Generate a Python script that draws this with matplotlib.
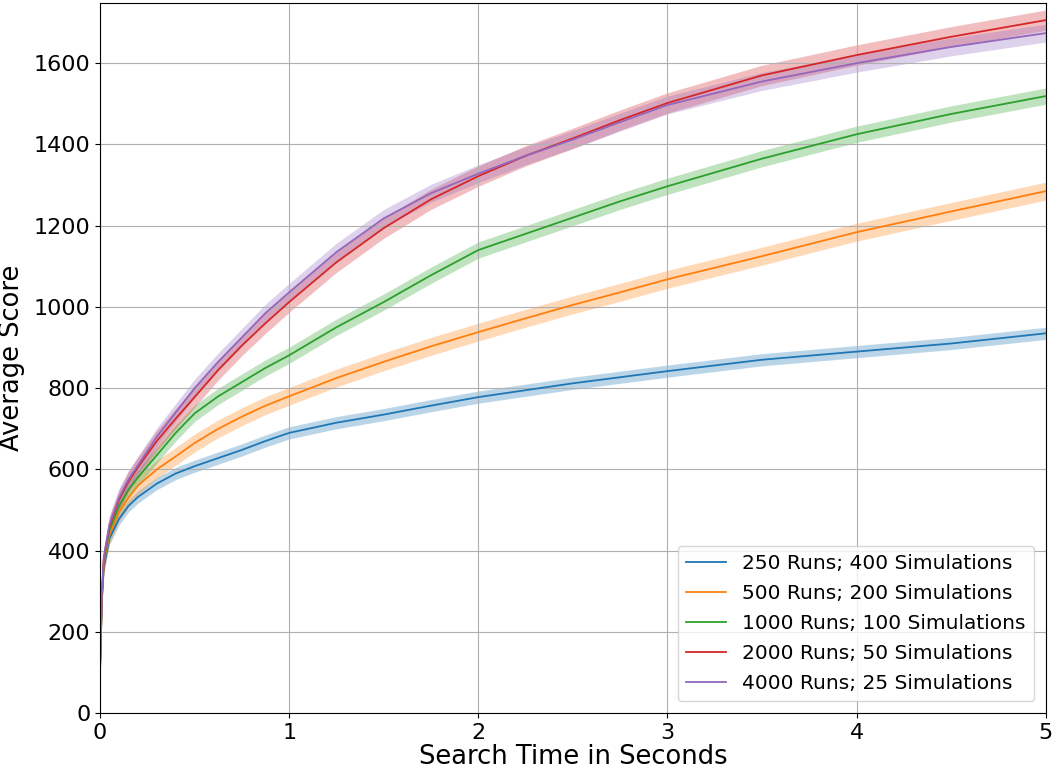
import matplotlib
matplotlib.use("Agg")
import matplotlib.pyplot as plt
import numpy as np

t = [0, 0.01, 0.02, 0.05, 0.1, 0.15, 0.2, 0.3, 0.4, 0.5, 0.625, 0.75, 0.875, 1,
     1.25, 1.5, 1.75, 2, 2.25, 2.5, 2.75, 3, 3.5, 4, 4.5, 5]

labels = ["250 Runs; 400 Simulations", "500 Runs; 200 Simulations",
          "1000 Runs; 100 Simulations", "2000 Runs; 50 Simulations",
          "4000 Runs; 25 Simulations"]

blue = [110, 280, 360, 430, 478, 510, 532, 565, 590, 608, 628, 648, 670, 690,
        715, 735, 757, 778, 795, 812, 827, 842, 870, 890, 910, 935]
orange = [110, 285, 370, 440, 495, 530, 560, 600, 632, 665, 700, 730, 757, 780,
          825, 865, 903, 938, 972, 1005, 1036, 1068, 1125, 1184, 1235, 1285]
green = [110, 290, 375, 450, 510, 550, 580, 635, 690, 738, 780, 815, 850, 881,
         950, 1012, 1078, 1140, 1180, 1220, 1260, 1297, 1365, 1425, 1475, 1519]
red = [110, 295, 380, 460, 525, 570, 605, 670, 725, 778, 845, 905, 960, 1012,
       1110, 1194, 1265, 1322, 1372, 1415, 1460, 1502, 1570, 1620, 1665, 1706]
purple = [110, 295, 385, 465, 530, 575, 610, 680, 740, 800, 865, 925, 985, 1036,
          1135, 1218, 1280, 1328, 1372, 1412, 1455, 1497, 1555, 1600, 1640, 1674]

# half-width of the shaded band
band = [15, 22, 20, 25, 22]

fig, ax = plt.subplots(figsize=(10.53, 7.71), dpi=100)
fig.subplots_adjust(left=0.095, right=0.993, top=0.996, bottom=0.075)

for ys, hw, lab in zip([blue, orange, green, red, purple], band, labels):
    ys = np.array(ys, dtype=float)
    line, = ax.plot(t, ys, lw=1.3, label=lab)
    ax.fill_between(t, ys - hw, ys + hw, color=line.get_color(), alpha=0.3, lw=0)

ax.set_xlim(0, 5)
ax.set_ylim(0, 1748)
ax.set_xlabel("Search Time in Seconds", fontsize=18.5, labelpad=1)
ax.set_ylabel("Average Score", fontsize=18.5, labelpad=6)
ax.tick_params(labelsize=16)
ax.grid(True)
ax.legend(loc="lower right", fontsize=14.5, labelspacing=0.55, borderaxespad=0.6)

fig.savefig("out.png", dpi=100)
